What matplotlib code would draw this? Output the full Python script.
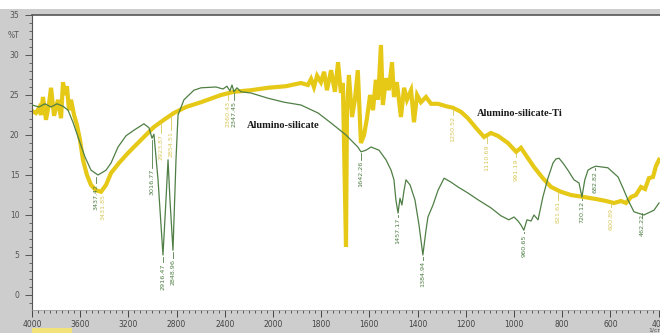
import numpy as np
import matplotlib
matplotlib.use("Agg")
import matplotlib.pyplot as plt
from matplotlib.patches import Rectangle
from matplotlib.ticker import FixedLocator, MultipleLocator

# Alumino-silicate (green), wavenumber in 1/cm and %T
ref_wn = [4000, 3942, 3892, 3842, 3793, 3743, 3701, 3660, 3610, 3560, 3510, 3452, 3386, 3344,
          3286, 3220, 3154, 3071, 3029, 3004, 2988, 2954, 2913, 2888, 2871, 2855, 2830, 2805,
          2788, 2739, 2656, 2597, 2473, 2415, 2382, 2357, 2340, 2324, 2299, 2266, 2183, 2042,
          1954, 1884, 1813, 1759, 1697, 1648, 1635, 1614, 1593, 1560, 1531, 1510, 1498, 1490,
          1481, 1473, 1465, 1456, 1448, 1431, 1411, 1394, 1378, 1365, 1357, 1336, 1315, 1290,
          1261, 1232, 1191, 1149, 1096, 1054, 1021, 1000, 983, 971, 959, 946, 929, 917, 900,
          880, 859, 838, 826, 813, 797, 776, 751, 730, 718, 706, 693, 677, 660, 610, 568, 548,
          527, 502, 461, 419, 398]
ref_t = [23.75, 23.5, 23.9, 23.5, 23.9, 23.6, 23.1, 21.6, 19.4, 17.25, 15.6, 15.0, 15.6, 16.5,
         18.5, 19.9, 20.6, 21.4, 20.9, 19.6, 20.1, 14.4, 5.0, 11.9, 16.9, 11.9, 5.6, 16.9,
         22.5, 24.4, 25.6, 25.9, 26.0, 25.75, 26.1, 25.5, 26.25, 25.4, 25.9, 25.4, 25.25, 24.6,
         24.1, 23.75, 22.75, 21.5, 20.0, 18.5, 17.9, 18.1, 18.5, 18.1, 16.9, 15.6, 14.4, 11.9,
         10.25, 12.1, 11.25, 13.1, 14.4, 13.75, 11.9, 8.75, 5.0, 8.1, 9.75, 11.25, 13.1, 14.6,
         14.1, 13.5, 12.75, 11.9, 10.9, 9.9, 9.4, 9.75, 9.25, 8.75, 8.1, 9.4, 9.25, 10.0, 9.4,
         12.25, 14.6, 16.5, 17.0, 17.1, 16.5, 15.6, 14.4, 14.0, 12.25, 14.4, 15.6, 15.9, 16.1,
         15.9, 14.75, 13.4, 11.9, 10.4, 10.0, 10.6, 11.5]

# Alumino-silicate-Ti (yellow)
ti_wn = [4000, 3967, 3942, 3925, 3909, 3884, 3859, 3842, 3817, 3801, 3784, 3759, 3743, 3726,
         3710, 3693, 3676, 3651, 3627, 3602, 3577, 3544, 3510, 3469, 3427, 3386, 3344, 3278,
         3203, 3154, 3071, 2988, 2905, 2822, 2722, 2597, 2431, 2324, 2183, 2042, 1946, 1884,
         1855, 1842, 1830, 1817, 1801, 1788, 1776, 1759, 1743, 1730, 1718, 1710, 1697, 1693,
         1685, 1672, 1660, 1648, 1635, 1622, 1610, 1597, 1585, 1573, 1564, 1552, 1544, 1531,
         1519, 1506, 1498, 1486, 1469, 1456, 1444, 1427, 1415, 1402, 1386, 1365, 1344, 1315,
         1282, 1253, 1220, 1191, 1158, 1124, 1096, 1067, 1025, 991, 971, 942, 917, 880, 846,
         805, 764, 710, 660, 618, 585, 556, 535, 514, 494, 473, 456, 440, 423, 411, 398]
ti_t = [23.0, 22.75, 23.4, 22.5, 24.75, 21.9, 23.9, 25.9, 22.4, 23.4, 24.4, 22.1, 26.6, 25.0,
        26.1, 23.1, 24.4, 22.5, 21.25, 19.4, 16.9, 15.0, 13.75, 13.1, 12.9, 13.75, 15.25, 16.5,
        17.75, 18.5, 19.75, 21.0, 21.9, 22.75, 23.5, 24.1, 25.0, 25.4, 25.6, 25.9, 26.1, 26.5,
        26.25, 27.0, 26.0, 27.4, 26.6, 27.9, 25.6, 28.1, 25.4, 29.1, 25.25, 26.5, 6.0, 23.1,
        27.5, 22.25, 24.4, 28.1, 19.0, 20.0, 22.1, 25.0, 23.1, 26.9, 24.4, 31.25, 23.75, 27.1,
        25.6, 29.1, 24.75, 26.6, 22.25, 25.9, 24.4, 25.6, 21.6, 25.0, 24.1, 24.75, 23.9, 23.9,
        23.6, 23.4, 22.9, 22.1, 20.9, 19.75, 20.25, 19.9, 19.0, 17.9, 18.4, 17.1, 16.0, 14.6, 13.5,
        12.9, 12.5, 12.25, 12.0, 11.75, 11.5, 11.75, 11.5, 12.25, 12.5, 13.5, 13.25, 14.6, 14.75,
        16.1, 16.9]

# peak labels: position, curve value, where the label starts, text
ref_pk_wn = [3468, 3004, 2913, 2830, 2324, 1635, 1481, 1378, 959, 718, 664, 468]
ref_pk_t = [15.0, 19.6, 5.0, 5.6, 25.4, 17.9, 10.25, 5.0, 8.1, 12.25, 16.1, 10.0]
ref_pk_top = [14.0, 15.9, 4.1, 4.6, 24.4, 16.9, 9.75, 4.4, 7.75, 11.9, 15.6, 10.25]
ref_pk_lbl = ['3437.42', '3016.77', '2916.47', '2848.96', '2347.45', '1642.26',
              '1457.17', '1384.94', '960.65', '720.12', '682.82', '462.22']

ti_pk_wn = [3412, 2929, 2846, 2373, 1253, 1112, 991, 817, 597]
ti_pk_t = [12.9, 21.7, 22.6, 25.2, 23.4, 20.0, 17.9, 13.1, 11.75]
ti_pk_top = [12.75, 20.25, 20.6, 24.4, 22.5, 19.0, 17.25, 11.9, 11.0]
ti_pk_lbl = ['3431.85', '2923.87', '2854.51', '2360.43', '1250.52', '1110.69',
             '991.19', '821.61', '600.89']

xticks = [4000, 3600, 3200, 2800, 2400, 2000, 1800, 1600, 1400, 1200, 1000, 800, 600, 400]

GREEN = '#4f7f45'
YELLOW = '#e6c817'
YLBL = '#d8c85a'


def fwd(w):
    # spectrometer axis: 400 per division above 2000, 200 per division below
    w = np.asarray(w, dtype=float)
    return np.where(w > 2000, (w - 2000) / 400.0, (w - 2000) / 200.0)


def inv(p):
    p = np.asarray(p, dtype=float)
    return np.where(p > 0, 2000 + 400.0 * p, 2000 + 200.0 * p)


fig = plt.figure(figsize=(6.6, 3.33), dpi=100)
fig.patch.set_facecolor('#cdcdcd')
fig.add_artist(Rectangle((0, 1 - 9 / 333), 1, 9 / 333, transform=fig.transFigure,
                         facecolor='white', edgecolor='none'))
fig.add_artist(Rectangle((32 / 660, 0), 40 / 660, 5 / 333, transform=fig.transFigure,
                         facecolor='#f1e27a', edgecolor='none'))

ax = fig.add_axes([32 / 660, (333 - 310) / 333, 1 - 32 / 660, (310 - 15) / 333])
ax.set_facecolor('white')
ax.set_xscale('function', functions=(fwd, inv))

ax.plot(ti_wn, ti_t, color=YELLOW, lw=3.0, solid_joinstyle='miter', zorder=2)
ax.plot(ref_wn, ref_t, color=GREEN, lw=0.9, zorder=3)

for w, t, top, s in zip(ref_pk_wn, ref_pk_t, ref_pk_top, ref_pk_lbl):
    ax.plot([w, w], [t - 0.2, top], color=GREEN, lw=0.6, zorder=3)
    ax.text(w, top - 0.15, s, rotation=90, ha='center', va='top', fontsize=4.6,
            color=GREEN, zorder=4)

for w, t, top, s in zip(ti_pk_wn, ti_pk_t, ti_pk_top, ti_pk_lbl):
    ax.plot([w, w], [t - 0.2, top], color=YLBL, lw=0.6, zorder=2)
    ax.text(w, top - 0.15, s, rotation=90, ha='center', va='top', fontsize=4.6,
            color=YLBL, zorder=2)

ax.text(1959, 21.25, 'Alumino-silicate', fontsize=7.5, fontweight='bold',
        family='Liberation Serif', color='#1a1a1a', ha='center', va='center', zorder=5)
ax.text(975, 22.75, 'Alumino-silicate-Ti', fontsize=7.5, fontweight='bold',
        family='Liberation Serif', color='#1a1a1a', ha='center', va='center', zorder=5)

ax.set_xlim(4000, 394)
ax.set_ylim(-1.875, 35)
ax.set_xticks(xticks)
ax.set_xticklabels([str(v) for v in xticks])
minor_x = [v for v in range(2050, 4000, 50) if v not in xticks] + \
          [v for v in range(425, 2000, 25) if v not in xticks]
ax.xaxis.set_minor_locator(FixedLocator(minor_x))
ax.set_yticks(range(0, 36, 5))
ax.yaxis.set_minor_locator(MultipleLocator(1))

ax.tick_params(axis='x', which='major', length=5, width=0.7, pad=2, labelsize=5.5,
               colors='#444444')
ax.tick_params(axis='x', which='minor', length=2.5, width=0.6, colors='#444444')
ax.tick_params(axis='y', which='major', length=5, width=0.7, pad=4, labelsize=5.5,
               colors='#555555')
ax.tick_params(axis='y', which='minor', length=2.5, width=0.6, colors='#555555')

ax.spines['right'].set_visible(False)
ax.spines['top'].set_color('#555555')
ax.spines['top'].set_linewidth(1.2)
ax.spines['left'].set_color('#555555')
ax.spines['left'].set_linewidth(0.8)
ax.spines['bottom'].set_color('#9a9a9a')
ax.spines['bottom'].set_linewidth(0.5)

fig.text(19 / 660, 1 - 36 / 333, '%T', ha='right', va='center', fontsize=5.5, color='#555555')
fig.text(648 / 660, 0, '1/cm', ha='left', va='bottom', fontsize=4.5, color='#555555')

fig.savefig('out.png', dpi=100)
